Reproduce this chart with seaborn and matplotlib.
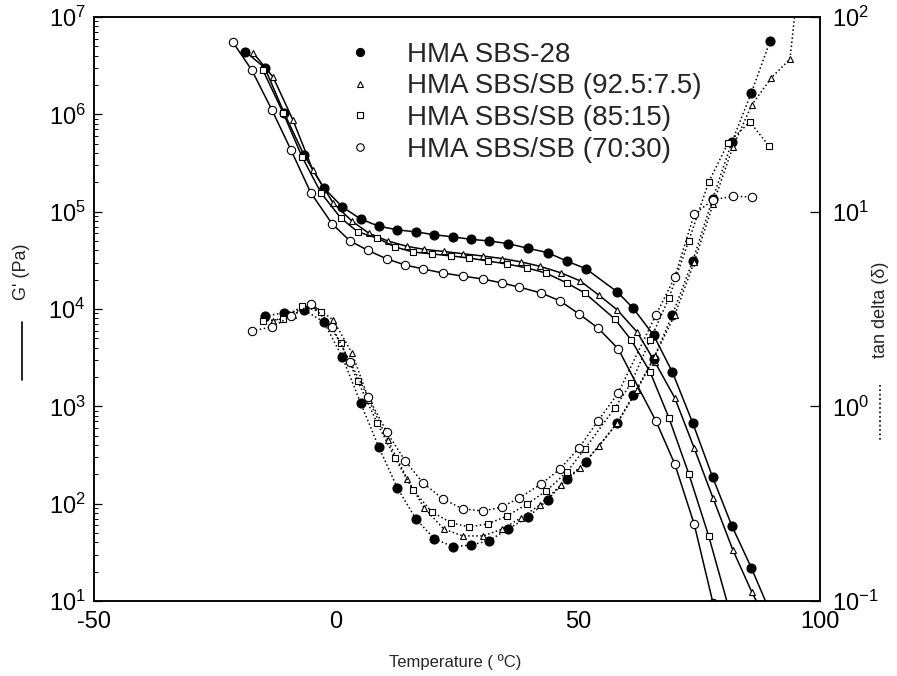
import numpy as np
import pandas as pd
import matplotlib
matplotlib.use("Agg")
import matplotlib.pyplot as plt
from matplotlib.lines import Line2D
from matplotlib.ticker import (LogLocator, NullLocator, NullFormatter, FixedLocator,
                               LogFormatterSciNotation)
import seaborn as sns

sns.set_theme(style="white")
plt.rcParams['font.family'] = ['Liberation Sans', 'DejaVu Sans']
plt.rcParams['mathtext.fontset'] = 'custom'
plt.rcParams['mathtext.rm'] = 'Liberation Sans'
plt.rcParams['axes.edgecolor'] = 'black'
plt.rcParams['axes.unicode_minus'] = False

nan = np.nan

# HMA SBS-28 (filled circles)
t_sbs28 = [-18.7, -14.7, -10.7, -6.6, -2.5, 1.3, 5.1, 8.8, 12.7, 16.5, 20.3, 24.2, 27.9, 31.6,
           35.5, 39.7, 43.7, 47.7, 51.6, 58.1, 61.4, 65.6, 69.5, 73.7, 77.8, 81.8, 85.8, 89.7]
g_sbs28 = [4.4e6, 3.0e6, 1.03e6, 3.8e5, 1.75e5, 1.12e5, 8.4e4, 7.1e4, 6.5e4, 6.2e4, 5.8e4, 5.5e4,
           5.2e4, 5.0e4, 4.7e4, 4.2e4, 3.8e4, 3.1e4, 2.6e4, 1.5e4, 1.02e4, 5.4e3, 2.25e3, 675,
           188, 59, 22, 7.7]
tan_sbs28 = [nan, 2.91, 3.02, 3.13, 2.71, 1.79, 1.04, 0.62, 0.38, 0.264, 0.209, 0.190, 0.194, 0.204,
             0.234, 0.270, 0.330, 0.424, 0.518, 0.82, 1.14, 1.75, 2.95, 5.58, 11.6, 22.8, 40.7, 75.3]

# HMA SBS/SB (92.5:7.5) (open triangles)
t_925 = [-17.1, -13.0, -8.9, -4.8, -0.6, 3.3, 6.8, 10.7, 14.7, 18.2, 22.3, 26.2, 30.4, 34.3, 38.2,
         42.1, 46.5, 50.4, 54.3, 58.1, 62.2, 65.9, 70.0, 74.0, 77.9, 82.0, 85.9, 89.9, 93.8, 95.5]
g_925 = [4.27e6, 2.42e6, 8.75e5, 2.68e5, 1.23e5, 8.0e4, 6.0e4, 5.0e4, 4.4e4, 4.1e4, 3.9e4, 3.7e4,
         3.5e4, 3.3e4, 3.05e4, 2.75e4, 2.35e4, 1.95e4, 1.39e4, 9.8e3, 5.8e3, 2.85e3, 1.22e3, 373,
         114, 33.4, 12.4, 5.0, nan, nan]
tan_925 = [nan, 2.75, 2.95, 3.32, 2.78, 1.88, 1.08, 0.671, 0.424, 0.301, 0.234, 0.216, 0.216, 0.234,
           0.267, 0.311, 0.394, 0.482, 0.625, 0.82, 1.21, 1.82, 2.95, 5.5, 10.9, 21.5, 35.3, 48.6,
           60.8, 150]

# HMA SBS/SB (85:15) (open squares)
t_85 = [-15.1, -10.9, -7.0, -3.1, 1.0, 4.5, 8.5, 12.2, 15.9, 19.8, 23.8, 27.5, 31.4, 35.3, 39.5,
        43.4, 47.7, 51.4, 57.6, 61.0, 64.9, 68.8, 72.9, 77.0, 81.0, 85.5, 89.5]
g_85 = [2.85e6, 1.03e6, 3.65e5, 1.56e5, 8.6e4, 6.2e4, 5.36e4, 4.34e4, 3.85e4, 3.68e4, 3.51e4, 3.34e4,
        3.11e4, 2.9e4, 2.64e4, 2.34e4, 1.85e4, 1.46e4, 7.9e3, 4.8e3, 2.25e3, 759, 202, 46.6, 9.0,
        nan, nan]
tan_85 = [2.74, 2.81, 3.28, 3.05, 2.11, 1.35, 0.82, 0.543, 0.372, 0.287, 0.252, 0.240, 0.249, 0.273,
          0.315, 0.367, 0.460, 0.604, 0.98, 1.32, 2.19, 3.6, 7.1, 14.2, 22.5, 28.9, 21.7]

# HMA SBS/SB (70:30) (open circles)
t_70 = [-21.3, -17.4, -13.2, -9.3, -5.2, -0.8, 2.9, 6.6, 10.5, 14.3, 18.0, 22.1, 26.2, 30.4, 34.3,
        37.8, 42.4, 46.3, 50.2, 54.1, 58.3, 66.1, 70.0, 74.0, 77.9, 82.0, 85.9]
g_70 = [5.5e6, 2.85e6, 1.1e6, 4.3e5, 1.56e5, 7.5e4, 5.0e4, 4.0e4, 3.27e4, 2.83e4, 2.58e4, 2.34e4,
        2.18e4, 2.03e4, 1.85e4, 1.68e4, 1.46e4, 1.21e4, 8.9e3, 6.4e3, 3.9e3, 707, 255, 61.8, 9.5,
        nan, nan]
tan_70 = [nan, 2.44, 2.56, 2.90, 3.35, 2.56, 1.69, 1.12, 0.738, 0.524, 0.404, 0.334, 0.297, 0.290,
          0.304, 0.338, 0.399, 0.477, 0.611, 0.84, 1.17, 2.95, 4.61, 9.7, 11.5, 12.0, 11.9]

labels = ["HMA SBS-28", "HMA SBS/SB (92.5:7.5)", "HMA SBS/SB (85:15)", "HMA SBS/SB (70:30)"]

x_ticks = [-50, 0, 50, 100]
g_ticks = [1e1, 1e2, 1e3, 1e4, 1e5, 1e6, 1e7]
tan_ticks = [0.1, 1, 10, 100]

series = [
    (labels[0], t_sbs28, g_sbs28, tan_sbs28, "o", "black", 6.5),
    (labels[1], t_925, g_925, tan_925, "^", "white", 5.0),
    (labels[2], t_85, g_85, tan_85, "s", "white", 5.0),
    (labels[3], t_70, g_70, tan_70, "o", "white", 6.0),
]

fig = plt.figure(figsize=(8.97, 6.76), dpi=100)
ax = fig.add_axes([94 / 897, 1 - 601 / 676, 726 / 897, 584 / 676])
ax2 = ax.twinx()
ax.set_yscale("log")
ax2.set_yscale("log")

for label, t, g, tan, mk, fc, ms in series:
    d = pd.DataFrame({"T": t, "G": g, "tan": tan})
    dg = d.dropna(subset=["G"])
    sns.lineplot(data=dg, x="T", y="G", ax=ax, color="black", linewidth=1.1,
                 marker=mk, markersize=ms, markerfacecolor=fc, markeredgecolor="black",
                 markeredgewidth=0.8, estimator=None, legend=False)
    dt = d.dropna(subset=["tan"])
    sns.lineplot(data=dt, x="T", y="tan", ax=ax2, color="black", linewidth=1.1, linestyle=":",
                 marker=mk, markersize=ms, markerfacecolor=fc, markeredgecolor="black",
                 markeredgewidth=0.8, estimator=None, legend=False)

ax.set_xlim(-50, 100)
ax.set_ylim(10, 1e7)
ax2.set_ylim(0.1, 100)
ax.set_xlabel("")
ax.set_ylabel("")
ax2.set_xlabel("")
ax2.set_ylabel("")

ax.xaxis.set_major_locator(FixedLocator(x_ticks))
ax.xaxis.set_minor_locator(FixedLocator([-25, 25, 75]))
ax.yaxis.set_major_locator(FixedLocator(g_ticks))
ax.yaxis.set_major_formatter(LogFormatterSciNotation())
ax.yaxis.set_minor_locator(LogLocator(base=10, subs=np.arange(2, 10), numticks=20))
ax.yaxis.set_minor_formatter(NullFormatter())
ax2.yaxis.set_major_locator(FixedLocator(tan_ticks))
ax2.yaxis.set_major_formatter(LogFormatterSciNotation())
ax2.yaxis.set_minor_locator(NullLocator())
ax2.tick_params(axis="x", which="both", bottom=False, top=False,
                labelbottom=False, labeltop=False)

ax.tick_params(axis="both", which="both", direction="in", colors="black", labelsize=17,
               top=False, right=False)
ax.tick_params(which="major", length=6, width=0.9)
ax.tick_params(which="minor", length=3, width=0.7)
ax.tick_params(axis="x", pad=7)
ax.tick_params(axis="y", pad=6)
ax2.tick_params(axis="y", which="both", direction="in", length=7, width=0.9, colors="black",
                labelsize=17, left=False, right=True, pad=9)

for a in (ax, ax2):
    for s in a.spines.values():
        s.set_color("black")
        s.set_linewidth(1.1)

handles = [Line2D([], [], linestyle="none", marker=mk, markersize=ms * 0.9,
                  markerfacecolor=fc, markeredgecolor="black", markeredgewidth=0.8)
           for _, _, _, _, mk, fc, ms in series]
ax2.legend(handles, labels, loc="upper left", bbox_to_anchor=(0.324, 0.986), frameon=False,
           fontsize=20, handlelength=1.0, handletextpad=1.2, labelspacing=0.2,
           borderaxespad=0.2)

fig.text(455 / 897, 1 - 662 / 676, "Temperature ( ºC)", ha="center", va="center", fontsize=12)
fig.text(22 / 897, 1 - 272 / 676, "G' (Pa)", rotation=90, ha="center", va="center", fontsize=13)
fig.add_artist(Line2D([22 / 897, 22 / 897], [1 - 322 / 676, 1 - 380 / 676],
                      color="black", linewidth=1.2))
fig.text(880 / 897, 1 - 310 / 676, "tan delta (δ)", rotation=90, ha="center", va="center",
         fontsize=13)
fig.add_artist(Line2D([880 / 897, 880 / 897], [1 - 385 / 676, 1 - 440 / 676],
                      color="black", linewidth=1.2, linestyle=":"))

fig.savefig("out.png", dpi=100, facecolor="white")
